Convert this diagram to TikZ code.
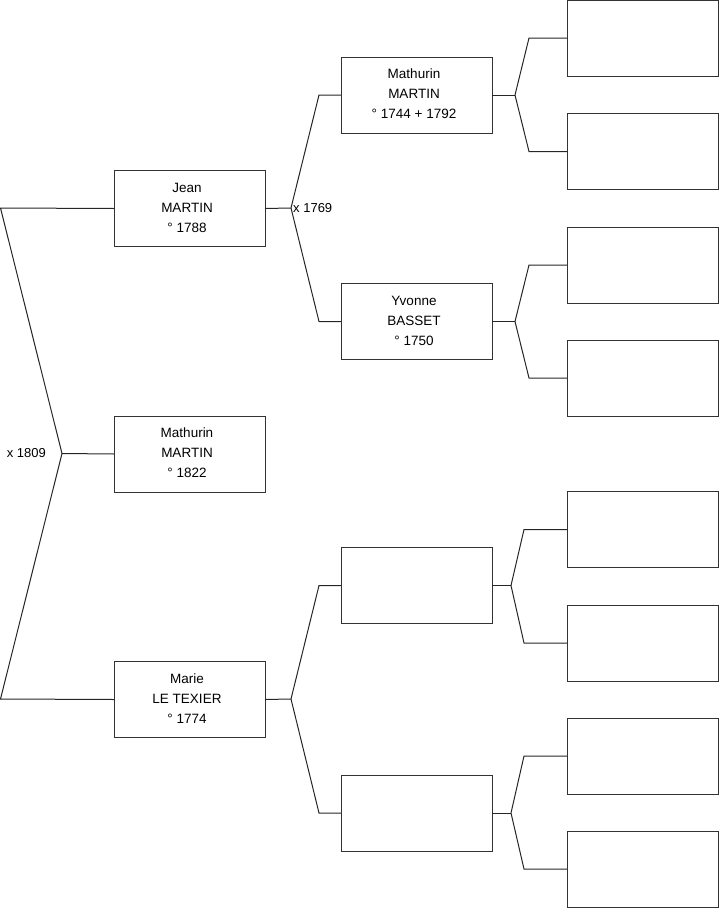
\documentclass[tikz,border=0pt]{standalone}
\usepackage{fontspec}
\setmainfont{Liberation Sans}
\begin{document}
\begin{tikzpicture}[x=1pt,y=-1pt,
  person/.style={draw=black!80, line width=1pt, minimum width=151pt, minimum height=76pt,
    inner sep=0pt, outer sep=0pt},
  pname/.style={inner sep=0pt, align=center, font=\fontsize{13.5}{20}\selectfont},
  link/.style={draw=black!85, line width=1pt},
  lbl/.style={inner sep=0pt, font=\fontsize{13}{20}\selectfont}]
\useasboundingbox (0,0) rectangle (719,908);
% column 1
\node[person] (jean) at (189.5,208.5) {};
\node[person] (math) at (189.5,454) {};
\node[person] (marie) at (189.5,699.5) {};
\node[pname] (tjean) at ([xshift=-2.5pt,yshift=1pt]jean.center) {Jean\\MARTIN\\° 1788};
\node[pname] (tmath) at ([xshift=-2.5pt,yshift=1pt]math.center) {Mathurin\\MARTIN\\° 1822};
\node[pname] (tmarie) at ([xshift=-2.5pt,yshift=1pt]marie.center) {Marie\\LE TEXIER\\° 1774};
% column 2
\node[person] (f1) at (416.5,95) {};
\node[person] (m1) at (416.5,321.5) {};
\node[person] (f2) at (416.5,585.5) {};
\node[person] (m2) at (416.5,813) {};
\node[pname] (tf1) at ([xshift=-2.5pt,yshift=1pt]f1.center) {Mathurin\\MARTIN\\° 1744 + 1792};
\node[pname] (tm1) at ([xshift=-2.5pt,yshift=1pt]m1.center) {Yvonne\\BASSET\\° 1750};
% column 3
\node[person] (a1) at (642.5,38) {};
\node[person] (a2) at (642.5,151.5) {};
\node[person] (a3) at (642.5,265) {};
\node[person] (a4) at (642.5,378) {};
\node[person] (a5) at (642.5,529.5) {};
\node[person] (a6) at (642.5,643) {};
\node[person] (a7) at (642.5,756) {};
\node[person] (a8) at (642.5,869) {};
% junction points
\coordinate (tl) at (0.5,208);
\coordinate (bl) at (0.5,699);
\coordinate (v0) at (62,453.5);
\coordinate (v1) at (291,208);
\coordinate (v2) at (291,699);
\coordinate (v3) at (515,95);
\coordinate (v4) at (515,321.5);
\coordinate (v5) at (511,585.5);
\coordinate (v6) at (511,813);
% connectors
\draw[link] (jean.west) -- (tl) -- (v0) -- (bl) -- (marie.west);
\draw[link] (v0) -- (math.west);
\draw[link] (jean.east) -- (v1);
\draw[link] (v1) -- (319,95) -- (f1.west);
\draw[link] (v1) -- (319,321.5) -- (m1.west);
\draw[link] (marie.east) -- (v2);
\draw[link] (v2) -- (319,585.5) -- (f2.west);
\draw[link] (v2) -- (319,813) -- (m2.west);
\draw[link] (f1.east) -- (v3);
\draw[link] (v3) -- (529,38) -- (a1.west);
\draw[link] (v3) -- (529,151.5) -- (a2.west);
\draw[link] (m1.east) -- (v4);
\draw[link] (v4) -- (529,265) -- (a3.west);
\draw[link] (v4) -- (529,378) -- (a4.west);
\draw[link] (f2.east) -- (v5);
\draw[link] (v5) -- (524,529.5) -- (a5.west);
\draw[link] (v5) -- (524,643) -- (a6.west);
\draw[link] (m2.east) -- (v6);
\draw[link] (v6) -- (524,756) -- (a7.west);
\draw[link] (v6) -- (524,869) -- (a8.west);
% marriage labels
\node[lbl, anchor=base east] (x1809) at (46,457) {x 1809};
\node[lbl, anchor=base west] (x1769) at (293,212) {x 1769};
\end{tikzpicture}
\end{document}
